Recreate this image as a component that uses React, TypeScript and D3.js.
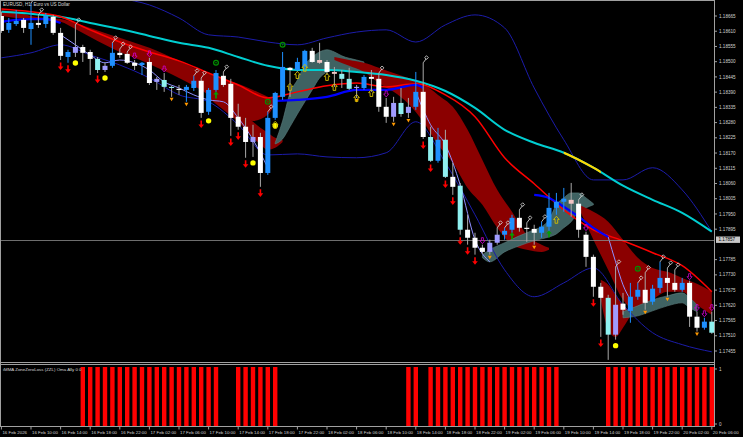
import React, { useEffect, useRef } from 'react';
import * as d3 from 'd3';

const W = 743;
const H = 437;

// EURUSD H1 bars from 16 Feb 06:00 to 20 Feb 06:00: [open, high, low, close]
const candles: number[][] = [
  [1.18665, 1.18680, 1.18604, 1.18611], [1.18615, 1.18658, 1.18604, 1.18640], [1.18636, 1.18687, 1.18629, 1.18647],
  [1.18651, 1.18658, 1.18604, 1.18622], [1.18618, 1.18712, 1.18561, 1.18640], [1.18640, 1.18669, 1.18622, 1.18633],
  [1.18636, 1.18676, 1.18622, 1.18665], [1.18662, 1.18669, 1.18597, 1.18604], [1.18604, 1.18622, 1.18506, 1.18521],
  [1.18517, 1.18543, 1.18496, 1.18535], [1.18532, 1.18633, 1.18517, 1.18553], [1.18553, 1.18561, 1.18499, 1.18532],
  [1.18535, 1.18543, 1.18452, 1.18510], [1.18510, 1.18517, 1.18459, 1.18470], [1.18485, 1.18496, 1.18463, 1.18470],
  [1.18485, 1.18568, 1.18478, 1.18532], [1.18532, 1.18546, 1.18514, 1.18524], [1.18528, 1.18535, 1.18492, 1.18496],
  [1.18496, 1.18506, 1.18470, 1.18485], [1.18488, 1.18499, 1.18452, 1.18496], [1.18499, 1.18514, 1.18416, 1.18423],
  [1.18438, 1.18445, 1.18398, 1.18427], [1.18434, 1.18459, 1.18391, 1.18409], [1.18409, 1.18413, 1.18373, 1.18405],
  [1.18402, 1.18416, 1.18380, 1.18398], [1.18398, 1.18416, 1.18355, 1.18409], [1.18405, 1.18449, 1.18394, 1.18431],
  [1.18431, 1.18441, 1.18297, 1.18315], [1.18319, 1.18405, 1.18308, 1.18398], [1.18398, 1.18470, 1.18391, 1.18459],
  [1.18449, 1.18463, 1.18409, 1.18416], [1.18420, 1.18438, 1.18232, 1.18297], [1.18301, 1.18348, 1.18254, 1.18265],
  [1.18265, 1.18297, 1.18153, 1.18210], [1.18210, 1.18272, 1.18156, 1.18228], [1.18228, 1.18243, 1.18048, 1.18098],
  [1.18098, 1.18319, 1.18091, 1.18297], [1.18297, 1.18391, 1.18290, 1.18387], [1.18373, 1.18535, 1.18362, 1.18481],
  [1.18478, 1.18481, 1.18373, 1.18470], [1.18470, 1.18514, 1.18463, 1.18499], [1.18481, 1.18543, 1.18470, 1.18539],
  [1.18539, 1.18550, 1.18496, 1.18499], [1.18506, 1.18568, 1.18492, 1.18496], [1.18499, 1.18506, 1.18452, 1.18463],
  [1.18463, 1.18481, 1.18409, 1.18456], [1.18456, 1.18470, 1.18405, 1.18438], [1.18438, 1.18478, 1.18398, 1.18402],
  [1.18409, 1.18416, 1.18369, 1.18405], [1.18405, 1.18452, 1.18398, 1.18445], [1.18445, 1.18470, 1.18391, 1.18438],
  [1.18438, 1.18459, 1.18319, 1.18337], [1.18337, 1.18369, 1.18279, 1.18301], [1.18301, 1.18373, 1.18283, 1.18351],
  [1.18351, 1.18405, 1.18301, 1.18311], [1.18315, 1.18369, 1.18297, 1.18337], [1.18337, 1.18463, 1.18326, 1.18391],
  [1.18391, 1.18496, 1.18221, 1.18228], [1.18228, 1.18265, 1.18138, 1.18142], [1.18142, 1.18261, 1.18135, 1.18218],
  [1.18218, 1.18254, 1.18080, 1.18084], [1.18084, 1.18135, 1.18019, 1.18048], [1.18052, 1.18062, 1.17875, 1.17893],
  [1.17893, 1.17947, 1.17839, 1.17864], [1.17864, 1.17882, 1.17803, 1.17828], [1.17828, 1.17839, 1.17806, 1.17813],
  [1.17813, 1.17857, 1.17803, 1.17846], [1.17846, 1.17900, 1.17839, 1.17875], [1.17875, 1.17900, 1.17857, 1.17889],
  [1.17893, 1.17947, 1.17882, 1.17936], [1.17936, 1.17965, 1.17886, 1.17900], [1.17900, 1.17918, 1.17849, 1.17896],
  [1.17896, 1.17911, 1.17839, 1.17882], [1.17882, 1.17922, 1.17864, 1.17904], [1.17904, 1.18026, 1.17886, 1.17972],
  [1.17972, 1.18026, 1.17947, 1.17994], [1.17994, 1.18044, 1.17958, 1.18005], [1.18001, 1.18062, 1.17940, 1.17987],
  [1.17987, 1.18001, 1.17864, 1.17893], [1.17875, 1.17886, 1.17759, 1.17795], [1.17795, 1.17803, 1.17651, 1.17687],
  [1.17687, 1.17701, 1.17506, 1.17647], [1.17647, 1.17658, 1.17423, 1.17514], [1.17514, 1.17759, 1.17496, 1.17622],
  [1.17626, 1.17665, 1.17586, 1.17604], [1.17600, 1.17701, 1.17557, 1.17651], [1.17651, 1.17701, 1.17640, 1.17676],
  [1.17676, 1.17738, 1.17604, 1.17629], [1.17633, 1.17694, 1.17622, 1.17680], [1.17683, 1.17777, 1.17665, 1.17719],
  [1.17719, 1.17755, 1.17651, 1.17701], [1.17701, 1.17748, 1.17669, 1.17676], [1.17676, 1.17719, 1.17669, 1.17701],
  [1.17701, 1.17709, 1.17542, 1.17579], [1.17579, 1.17597, 1.17525, 1.17539], [1.17539, 1.17575, 1.17532, 1.17561],
  [1.17561, 1.17597, 1.17517, 1.17521],
];

// body colour per bar: w white, b blue, l lavender, c cyan, p pink
const barColors = ('wbbwbwbwwb' + 'lwwclbwwwb' + 'wlccwbbwbb' + 'wwwwlwbbbw' + 'bbwpwpcclb' +
  'wwwlclbwcb' + 'cwcwwwllbb' + 'wwwbbbbpww' + 'wwclwbbwbb' + 'wwbwwbc').split('');

const timeLabels = [
  '16 Feb 2026', '16 Feb 10:00', '16 Feb 14:00', '16 Feb 18:00', '16 Feb 22:00', '17 Feb 02:00', '17 Feb 06:00',
  '17 Feb 10:00', '17 Feb 14:00', '17 Feb 18:00', '17 Feb 22:00', '18 Feb 02:00', '18 Feb 06:00', '18 Feb 10:00',
  '18 Feb 14:00', '18 Feb 18:00', '18 Feb 22:00', '19 Feb 02:00', '19 Feb 06:00', '19 Feb 10:00', '19 Feb 14:00',
  '19 Feb 18:00', '19 Feb 22:00', '20 Feb 02:00', '20 Feb 06:00',
];

const priceLabels = [
  '1.18665', '1.18610', '1.18555', '1.18500', '1.18445', '1.18390', '1.18335', '1.18280', '1.18225', '1.18170',
  '1.18115', '1.18060', '1.18005', '1.17950', '1.17895', '1.17785', '1.17730', '1.17675', '1.17620', '1.17565',
  '1.17510', '1.17455',
];
const lastPrice = 1.17857;

// moving averages / bands, one value every 4 bars
const cyanMA = [1.18680, 1.18673, 1.18662, 1.18640, 1.18618, 1.18593, 1.18568, 1.18550, 1.18517, 1.18485, 1.18470, 1.18470,
  1.18463, 1.18452, 1.18431, 1.18394, 1.18333, 1.18254, 1.18207, 1.18171, 1.18117, 1.18052, 1.18001, 1.17954, 1.17886];
const redMA = [1.18690, 1.18680, 1.18662, 1.18615, 1.18571, 1.18535, 1.18503, 1.18459, 1.18416, 1.18369, 1.18391, 1.18413,
  1.18423, 1.18409, 1.18420, 1.18380, 1.18301, 1.18153, 1.18059, 1.17965, 1.17893, 1.17853, 1.17810, 1.17763, 1.17669];
const bbUpper = [1.18831, 1.18813, 1.18777, 1.18752, 1.18730, 1.18705, 1.18658, 1.18597, 1.18589, 1.18571, 1.18561, 1.18586,
  1.18607, 1.18615, 1.18571, 1.18633, 1.18669, 1.18622, 1.18405, 1.18218, 1.18073, 1.18073, 1.18117, 1.18037, 1.17886];
const bbLower = [1.18514, 1.18532, 1.18561, 1.18524, 1.18488, 1.18441, 1.18380, 1.18355, 1.18272, 1.18163, 1.18167, 1.18156,
  1.18153, 1.18171, 1.18283, 1.18135, 1.17947, 1.17748, 1.17651, 1.17701, 1.17755, 1.17622, 1.17521, 1.17478, 1.17452];
const yellowFrom = 76;
const yellowTo = 81;

// fast line: [bar, price]
const blueFast1 = [[0, 1.18644], [2, 1.18651], [4, 1.18654], [6, 1.18654], [8, 1.18640]];
const blueFast2 = [[37, 1.18358], [40, 1.18362], [44, 1.18373], [48, 1.18398], [52, 1.18398], [56, 1.18416], [57, 1.18405]];
const blueFast3 = [[72, 1.18019], [74, 1.18008], [76, 1.17976], [78, 1.17940], [80, 1.17900], [82, 1.17867]];
const lavFast1 = [[8, 1.18597], [10, 1.18561], [12, 1.18524], [14, 1.18496], [16, 1.18506], [18, 1.18496], [20, 1.18470],
  [22, 1.18427], [24, 1.18405], [26, 1.18380], [28, 1.18362], [30, 1.18355], [32, 1.18297], [34, 1.18218], [36, 1.18117]];
const lavFast2 = [[56, 1.18391], [58, 1.18272], [60, 1.18200], [62, 1.18055], [64, 1.17857], [66, 1.17777]];
const lavFast3 = [[82, 1.17867], [83, 1.17777], [84, 1.17694], [85, 1.17640]];

// ribbons: [bar, top, bottom]
const redRibbonA = [[0, 1.18687, 1.18665], [2, 1.18680, 1.18658], [4, 1.18665, 1.18654], [6, 1.18658, 1.18651],
  [8, 1.18654, 1.18644], [10, 1.18640, 1.18618], [12, 1.18622, 1.18589], [14, 1.18604, 1.18561], [16, 1.18586, 1.18535],
  [18, 1.18568, 1.18514], [20, 1.18550, 1.18492], [22, 1.18528, 1.18467], [24, 1.18503, 1.18441], [26, 1.18478, 1.18413],
  [28, 1.18456, 1.18380], [30, 1.18438, 1.18340], [32, 1.18420, 1.18308], [34, 1.18398, 1.18286], [36, 1.18373, 1.18308],
  [37, 1.18362, 1.18351]];
const redRibbonFastA = [[28, 1.18380, 1.18369], [30, 1.18355, 1.18326], [32, 1.18326, 1.18283], [34, 1.18283, 1.18225],
  [35, 1.18261, 1.18200], [36, 1.18243, 1.18182], [37, 1.18225, 1.18189], [38, 1.18218, 1.18210]];
const greyRibbonA = [[37, 1.18207, 1.18203], [38, 1.18286, 1.18221], [39, 1.18387, 1.18265], [40, 1.18434, 1.18311],
  [41, 1.18488, 1.18355], [42, 1.18517, 1.18398], [43, 1.18535, 1.18441], [44, 1.18543, 1.18463], [45, 1.18535, 1.18470],
  [46, 1.18521, 1.18470], [48, 1.18506, 1.18463], [49, 1.18499, 1.18463]];
const redRibbonB = [[45, 1.18517, 1.18506], [47, 1.18506, 1.18485], [49, 1.18496, 1.18463], [51, 1.18478, 1.18423],
  [53, 1.18459, 1.18391], [55, 1.18441, 1.18348], [57, 1.18420, 1.18283], [59, 1.18380, 1.18200], [61, 1.18337, 1.18135],
  [63, 1.18254, 1.18044], [65, 1.18145, 1.17983], [67, 1.18037, 1.17900], [69, 1.17958, 1.17839], [71, 1.17875, 1.17821],
  [73, 1.17839, 1.17813], [74, 1.17828, 1.17821]];
const greyRibbonB = [[65, 1.17803, 1.17792], [66, 1.17821, 1.17777], [68, 1.17846, 1.17813], [70, 1.17871, 1.17835],
  [72, 1.17893, 1.17853], [73, 1.17904, 1.17860], [74, 1.17929, 1.17867], [75, 1.17983, 1.17878], [76, 1.18008, 1.17900],
  [77, 1.18026, 1.17922], [78, 1.18026, 1.17958], [79, 1.18008, 1.17972], [80, 1.17987, 1.17983]];
const redRibbonC = [[78, 1.17983, 1.17972], [80, 1.17958, 1.17857], [82, 1.17922, 1.17748], [84, 1.17857, 1.17640],
  [86, 1.17792, 1.17597], [88, 1.17755, 1.17640], [90, 1.17741, 1.17669], [92, 1.17719, 1.17669], [94, 1.17698, 1.17622],
  [96, 1.17669, 1.17586]];
const redRibbonFastC = [[81, 1.17712, 1.17640], [82, 1.17694, 1.17532], [83, 1.17658, 1.17506], [84, 1.17622, 1.17539],
  [85, 1.17597, 1.17582]];
const greyRibbonC = [[84, 1.17597, 1.17575], [86, 1.17618, 1.17582], [88, 1.17640, 1.17600], [90, 1.17654, 1.17618],
  [92, 1.17665, 1.17629], [93, 1.17647, 1.17611], [94, 1.17622, 1.17597]];

// signal markers
const redArrowBars = [8, 9, 13, 27, 31, 32, 33, 35, 57, 58, 60, 61, 62, 63, 64, 80, 81];
const yellowDotBars = [10, 14, 28, 34, 37, 83];
const pinBars = [4, 5, 10, 15, 16, 17, 26, 27, 30, 36, 51, 57, 67, 68, 70, 71, 73, 78, 83, 86, 87, 89, 90, 91];
const magentaBars = [18, 20, 22, 52, 65, 79, 93, 94, 95, 96];
const orangeBars = [23, 25, 48, 53, 55, 66, 72, 87, 90, 94];
const goldUpArrows = [[37, 1.18272], [39, 1.18409], [40, 1.18452], [41, 1.18478], [44, 1.18445], [45, 1.18409],
  [48, 1.18369], [50, 1.18387], [75, 1.17929]];
const greenUpArrows = [[29, 1.18380], [69, 1.17871], [74, 1.17878]];
const greenRings = [[29, 1.18496], [36, 1.18355], [38, 1.18561], [86, 1.17752]];

// iMMA ZoneZeroLoss sub-window (0 / 1 per bar)
const zzl = [
  0, 0, 0, 0, 0, 0, 0, 0, 0, 0, 0, 1, 1, 1, 1, 1, 1, 1, 1, 1,
  1, 1, 1, 1, 1, 1, 1, 1, 1, 1, 0, 0, 1, 1, 1, 1, 1, 1, 0, 0,
  0, 0, 0, 0, 0, 0, 0, 0, 0, 0, 0, 0, 0, 0, 0, 1, 1, 0, 1, 1,
  1, 1, 1, 1, 1, 1, 1, 1, 1, 1, 1, 1, 1, 1, 1, 1, 0, 0, 0, 0,
  0, 0, 1, 1, 1, 1, 1, 1, 1, 1, 1, 1, 1, 1, 1, 1, 1,
];

const bodyFill: Record<string, string> = { w: '#ffffff', b: '#1e90ff', l: '#a09cff', c: '#8ff0f0', p: '#f2c4c4' };
const FONT = '"Liberation Sans", Arial, sans-serif';

const App: React.FC = () => {
  const svgRef = useRef<SVGSVGElement>(null);

  useEffect(() => {
    if (!svgRef.current) return;
    document.body.style.margin = '0';
    document.body.style.background = '#000';

    const svg = d3.select(svgRef.current);
    svg.selectAll('*').remove();

    const x = d3.scaleLinear().domain([0, 96]).range([1.4, 711.8]);
    const y = d3.scaleLinear().domain([1.18665, 1.17455]).range([16, 351]);
    const yz = d3.scaleLinear().domain([0, 1]).range([426, 367]);

    const defs = svg.append('defs');
    defs.append('clipPath').attr('id', 'mainClip')
      .append('rect').attr('x', 1).attr('y', 1).attr('width', 713).attr('height', 361);
    defs.append('clipPath').attr('id', 'yellowClip')
      .append('rect').attr('x', x(yellowFrom)).attr('y', 0).attr('width', x(yellowTo) - x(yellowFrom)).attr('height', 362);

    svg.append('rect').attr('width', W).attr('height', H).attr('fill', '#000');

    const main = svg.append('g').attr('clip-path', 'url(#mainClip)');

    // ribbons
    const area = d3.area<number[]>()
      .x(d => x(d[0])).y0(d => y(d[1])).y1(d => y(d[2]))
      .curve(d3.curveMonotoneX);
    const ribbons: [number[][], string][] = [
      [redRibbonA, '#8b0000'], [redRibbonFastA, '#8b0000'], [greyRibbonA, '#3f6262'],
      [redRibbonB, '#8b0000'], [greyRibbonB, '#3f6262'], [redRibbonC, '#8b0000'],
      [redRibbonFastC, '#8b0000'], [greyRibbonC, '#3f6262'],
    ];
    ribbons.forEach(([data, color]) => {
      main.append('path').attr('d', area(data) as string).attr('fill', color)
        .attr('stroke', color === '#3f6262' ? '#5d8080' : 'none').attr('stroke-width', 0.6);
    });

    const line = d3.line<number[]>().x(d => x(d[0])).y(d => y(d[1])).curve(d3.curveMonotoneX);
    const every4 = (arr: number[]) => arr.map((v, k) => [k * 4, v]);

    // bands & averages
    [bbUpper, bbLower].forEach(s => {
      main.append('path').attr('d', line(every4(s)) as string)
        .attr('fill', 'none').attr('stroke', '#1c1caa').attr('stroke-width', 1);
    });
    main.append('path').attr('d', line(every4(cyanMA)) as string)
      .attr('fill', 'none').attr('stroke', '#00ced1').attr('stroke-width', 2);
    main.append('g').attr('clip-path', 'url(#yellowClip)')
      .append('path').attr('d', line(every4(cyanMA)) as string)
      .attr('fill', 'none').attr('stroke', '#ffd700').attr('stroke-width', 2);
    main.append('path').attr('d', line(every4(redMA)) as string)
      .attr('fill', 'none').attr('stroke', '#ff0000').attr('stroke-width', 1.5);
    [lavFast1, lavFast2, lavFast3].forEach(s => {
      main.append('path').attr('d', line(s) as string)
        .attr('fill', 'none').attr('stroke', '#8f8fff').attr('stroke-width', 1);
    });
    [blueFast1, blueFast2, blueFast3].forEach(s => {
      main.append('path').attr('d', line(s) as string)
        .attr('fill', 'none').attr('stroke', '#0000ff').attr('stroke-width', 2.2);
    });

    // bid line
    main.append('line').attr('x1', 1).attr('x2', 714)
      .attr('y1', Math.round(y(lastPrice)) + 0.5).attr('y2', Math.round(y(lastPrice)) + 0.5)
      .attr('stroke', '#8a8a8a').attr('stroke-width', 0.8);

    // candles
    candles.forEach((c, i) => {
      const [o, h, l, cl] = c;
      const col = barColors[i];
      const cx = x(i);
      main.append('line').attr('x1', cx).attr('x2', cx).attr('y1', y(h)).attr('y2', y(l))
        .attr('stroke', col === 'b' ? '#1e90ff' : '#a8a8a8').attr('stroke-width', 1);
      const top = y(Math.max(o, cl));
      const bot = y(Math.min(o, cl));
      main.append('rect').attr('x', cx - 2.5).attr('y', top).attr('width', 5)
        .attr('height', Math.max(1, bot - top)).attr('fill', bodyFill[col]);
    });

    // markers
    redArrowBars.forEach(i => {
      const cx = x(i);
      const t = y(candles[i][2]) + 2.5;
      main.append('path')
        .attr('d', `M${cx - 0.8},${t} h1.6 v4 h2 l-2.8,3.6 l-2.8,-3.6 h2 z`)
        .attr('fill', '#ff0000');
    });
    yellowDotBars.forEach(i => {
      main.append('circle').attr('cx', x(i)).attr('cy', y(candles[i][2]) + 6).attr('r', 2.7).attr('fill', '#ffff00');
    });
    orangeBars.forEach(i => {
      const cx = x(i);
      const t = y(candles[i][2]) + 1;
      main.append('path').attr('d', `M${cx - 2},${t} h4 l-2,3.5 z`).attr('fill', '#ff9900');
    });
    pinBars.forEach(i => {
      const cx = x(i);
      const t = y(candles[i][1]);
      main.append('path').attr('d', `M${cx},${t} l3,-4`).attr('stroke', '#d0d0d0').attr('stroke-width', 0.9);
      main.append('rect').attr('x', cx + 2).attr('y', t - 6.5).attr('width', 2.6).attr('height', 2.6)
        .attr('transform', `rotate(45 ${cx + 3.3} ${t - 5.2})`)
        .attr('fill', 'none').attr('stroke', '#d8d8d8').attr('stroke-width', 0.8);
    });
    magentaBars.forEach(i => {
      const cx = x(i);
      const b = y(candles[i][1]) - 1;
      main.append('path')
        .attr('d', `M${cx - 1},${b - 6} h2 v3 h1.5 l-2.5,3 l-2.5,-3 h1.5 z`)
        .attr('fill', 'none').attr('stroke', '#d000d0').attr('stroke-width', 0.8);
    });
    goldUpArrows.forEach(([i, p]) => {
      const cx = x(i);
      const t = y(p) - 3.5;
      main.append('path')
        .attr('d', `M${cx},${t} l2.8,3.2 h-1.5 v3.8 h-2.6 v-3.8 h-1.5 z`)
        .attr('fill', 'none').attr('stroke', '#d4c000').attr('stroke-width', 0.9);
    });
    greenUpArrows.forEach(([i, p]) => {
      const cx = x(i);
      const t = y(p) - 3.5;
      main.append('path')
        .attr('d', `M${cx},${t} l2.8,3.2 h-2 v3.8 h-1.6 v-3.8 h-2 z`)
        .attr('fill', '#00a000');
    });
    greenRings.forEach(([i, p]) => {
      main.append('circle').attr('cx', x(i)).attr('cy', y(p)).attr('r', 2.4)
        .attr('fill', 'none').attr('stroke', '#009000').attr('stroke-width', 1.2);
      main.append('circle').attr('cx', x(i)).attr('cy', y(p)).attr('r', 0.8).attr('fill', '#009000');
    });

    // frame
    const grey = '#a0a0a0';
    const hline = (yy: number, x1: number, x2: number) =>
      svg.append('line').attr('x1', x1).attr('x2', x2).attr('y1', yy).attr('y2', yy).attr('stroke', grey).attr('stroke-width', 1);
    hline(0.5, 0, 715);
    hline(362.5, 0, 715);
    hline(364.5, 0, 715);
    hline(426.5, 0, 715);
    svg.append('line').attr('x1', 714.5).attr('x2', 714.5).attr('y1', 0).attr('y2', 427).attr('stroke', grey);
    svg.append('line').attr('x1', 0.5).attr('x2', 0.5).attr('y1', 0).attr('y2', 427).attr('stroke', grey);

    // price axis
    priceLabels.forEach(s => {
      const yy = y(+s);
      svg.append('line').attr('x1', 714).attr('x2', 717).attr('y1', yy).attr('y2', yy).attr('stroke', grey);
      svg.append('text').attr('x', 719).attr('y', yy + 1.6).text(s)
        .attr('font-family', FONT).attr('font-size', 4.6).attr('fill', '#d0d0d0');
    });
    const ly = y(lastPrice);
    svg.append('rect').attr('x', 716).attr('y', ly - 3.2).attr('width', 24).attr('height', 6.4).attr('fill', '#c8c8c8');
    svg.append('text').attr('x', 718.5).attr('y', ly + 1.6).text(lastPrice.toFixed(5))
      .attr('font-family', FONT).attr('font-size', 4.6).attr('fill', '#000');

    // time axis
    timeLabels.forEach((s, k) => {
      const xx = x(k * 4);
      svg.append('line').attr('x1', xx).attr('x2', xx).attr('y1', 426).attr('y2', 429.5).attr('stroke', grey);
      svg.append('text').attr('x', xx + 1).attr('y', 434).text(s)
        .attr('font-family', FONT).attr('font-size', 4.4).attr('fill', '#d0d0d0');
    });

    // title
    svg.append('text').attr('x', 3).attr('y', 6).text('EURUSD, H1:  Euro vs US Dollar')
      .attr('font-family', FONT).attr('font-size', 4.6).attr('fill', '#d8d8d8');

    // sub-window
    const sub = svg.append('g');
    zzl.forEach((v, i) => {
      if (!v) return;
      sub.append('rect').attr('x', x(i) - 2.2).attr('y', yz(v)).attr('width', 4.4)
        .attr('height', yz(0) - yz(v)).attr('fill', '#ff0000');
    });
    sub.append('text').attr('x', 3).attr('y', 371).text('iMMA ZoneZeroLoss (ZZL) Oma Ally 0 0')
      .attr('font-family', FONT).attr('font-size', 4.4).attr('fill', '#d8d8d8');
    [[1, 369], [0, 424]].forEach(([v, yy]) => {
      svg.append('line').attr('x1', 714).attr('x2', 717).attr('y1', yy).attr('y2', yy).attr('stroke', grey);
      svg.append('text').attr('x', 719).attr('y', yy + 1.6).text(String(v))
        .attr('font-family', FONT).attr('font-size', 4.6).attr('fill', '#d0d0d0');
    });
  }, []);

  return <svg ref={svgRef} width={W} height={H} style={{ display: 'block' }} />;
};

export default App;
